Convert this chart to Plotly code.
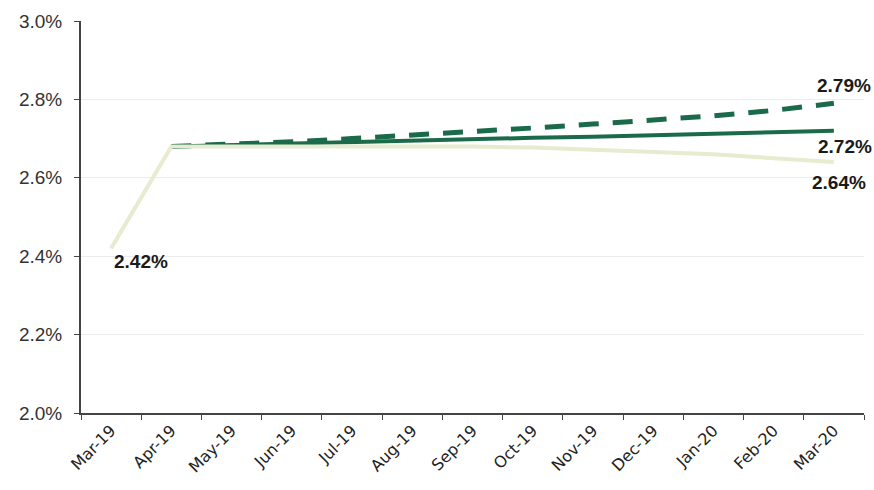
import plotly.graph_objects as go

months = ["Mar-19", "Apr-19", "May-19", "Jun-19", "Jul-19", "Aug-19", "Sep-19",
          "Oct-19", "Nov-19", "Dec-19", "Jan-20", "Feb-20", "Mar-20"]

light_vals = [2.42, 2.68, 2.68, 2.68, 2.68, 2.68, 2.68, 2.677, 2.672, 2.666, 2.66, 2.65, 2.64]
solid_vals = [None, 2.68, 2.684, 2.688, 2.691, 2.695, 2.698, 2.702, 2.705, 2.709, 2.712, 2.716, 2.72]
dashed_vals = [None, 2.68, 2.685, 2.692, 2.70, 2.708, 2.717, 2.727, 2.737, 2.747, 2.758, 2.772, 2.79]

y_ticks = [2.0, 2.2, 2.4, 2.6, 2.8, 3.0]

DARK = "#1b6b4b"
LIGHT = "#e8ebd0"

fig = go.Figure()
fig.add_trace(go.Scatter(x=months, y=dashed_vals, mode="lines",
                         line=dict(color=DARK, width=5, dash="20px,14px"), showlegend=False))
fig.add_trace(go.Scatter(x=months, y=solid_vals, mode="lines",
                         line=dict(color=DARK, width=4), showlegend=False))
fig.add_trace(go.Scatter(x=months, y=light_vals, mode="lines",
                         line=dict(color=LIGHT, width=4), showlegend=False))

label_font = dict(family="Liberation Sans, Arial", size=19, color="#1a1a1a")
ann = [
    (months[-1], dashed_vals[-1], 10, 18),
    (months[-1], solid_vals[-1], 11, -16),
    (months[-1], light_vals[-1], 5, -20),
    (months[0], light_vals[0], 30, -13),
]
for x, y, xs, ys in ann:
    fig.add_annotation(x=x, y=y, text=f"<b>{y:.2f}%</b>", showarrow=False,
                       xshift=xs, yshift=ys, font=label_font)

fig.update_layout(
    width=874, height=490,
    margin=dict(l=81, r=10, t=21, b=77),
    plot_bgcolor="white", paper_bgcolor="white",
)
fig.update_xaxes(
    type="category", range=[-0.5, 12.5], tickson="boundaries",
    ticks="outside", ticklen=5, tickcolor="#444", tickangle=-45,
    showline=True, linecolor="#444", linewidth=2, showgrid=False,
    tickfont=dict(family="Verdana, DejaVu Sans", size=16, color="#222"),
)
fig.update_yaxes(
    range=[2.0, 3.0], tickvals=y_ticks, ticktext=[f"{v:.1f}%" for v in y_ticks],
    ticks="outside", ticklen=5, tickcolor="#444",
    showline=True, linecolor="#444", linewidth=2,
    showgrid=True, gridcolor="#ececec", gridwidth=1, zeroline=False,
    tickfont=dict(family="Liberation Sans, Arial", size=19, color="#333"),
    ticklabelstandoff=8,
)

fig.write_html("out.html")
